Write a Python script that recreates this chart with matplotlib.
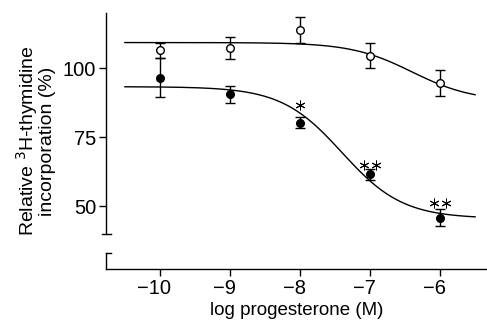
import numpy as np
import matplotlib
matplotlib.use("Agg")
import matplotlib.pyplot as plt
import matplotlib.transforms as mtransforms

plt.rcParams['font.family'] = ['Liberation Sans', 'DejaVu Sans']

# ---- data ----
log_conc = [-10, -9, -8, -7, -6]
open_mean = [106.5, 107.4, 113.8, 104.5, 94.7]
open_err = [2.7, 4.0, 4.8, 4.5, 4.8]
filled_mean = [96.6, 90.5, 80.2, 61.5, 45.8]
filled_err = [7.0, 3.2, 2.0, 2.0, 3.0]

# fitted sigmoid parameters (top, bottom, logEC50)
open_fit = (109.3, 88.0, -6.4)
filled_fit = (93.3, 45.5, -7.4)
fit_range = (-10.5, -5.5)

# significance marks (number of stars)
sig_x = [-8, -7, -6]
sig_y = [86.6, 64.9, 51.2]
sig_n = [1, 2, 2]

yticks = [50, 75, 100]
xticks = [-10, -9, -8, -7, -6]
xlim = (-10.77, -5.33)
ylim = (27.2, 120)
break_lo, break_hi = 33.0, 40.0


def hill(x, p):
    top, bot, ec = p
    return bot + (top - bot) / (1 + 10 ** (x - ec))


fig = plt.figure(figsize=(4.87, 3.26), dpi=100)
ax = fig.add_axes([0.2177, 0.175, 0.7823, 0.785])

xs = np.linspace(fit_range[0], fit_range[1], 300)
ax.plot(xs, hill(xs, open_fit), color="black", lw=1.0)
ax.plot(xs, hill(xs, filled_fit), color="black", lw=1.0)

ax.errorbar(log_conc, filled_mean, yerr=filled_err, fmt="o", color="black",
            mfc="black", mec="black", ms=5.5, capsize=3.8, elinewidth=1.0,
            capthick=1.0, zorder=3)
ax.errorbar(log_conc, open_mean, yerr=open_err, fmt="o", color="black",
            mfc="white", mec="black", ms=5.5, capsize=3.8, elinewidth=1.0,
            capthick=1.0, zorder=4)

# asterisks, side by side (offset in points)
for x, y, n in zip(sig_x, sig_y, sig_n):
    for k in range(n):
        dx = (k - (n - 1) / 2) * 8.5
        tr = ax.transData + mtransforms.ScaledTranslation(dx / 72, 0, fig.dpi_scale_trans)
        ax.plot([x], [y], marker=(6, 2, 0), ms=7, mew=0.7, color="black",
                transform=tr, linestyle="none")

ax.set_xlim(*xlim)
ax.set_ylim(*ylim)
ax.set_xticks(xticks)
ax.set_xticklabels(["\u2212%d" % abs(v) for v in xticks])
ax.set_yticks(yticks)
ax.tick_params(direction="out", length=5, width=1.0, labelsize=14.5, pad=2)
# numbers centred on the ticks, minus sign hangs left
shift = mtransforms.ScaledTranslation(-4 / 72, 0, fig.dpi_scale_trans)
for lbl in ax.get_xticklabels():
    lbl.set_transform(lbl.get_transform() + shift)

for s in ["top", "right", "left"]:
    ax.spines[s].set_visible(False)
ax.spines["bottom"].set_linewidth(1.0)

# broken left axis
x0 = xlim[0]
ax.plot([x0, x0], [break_hi, ylim[1]], color="black", lw=1.0, clip_on=False)
ax.plot([x0, x0], [ylim[0], break_lo], color="black", lw=1.0, clip_on=False)
ax.plot([x0 - 0.06, x0 + 0.07], [break_hi, break_hi], color="black", lw=1.0, clip_on=False)
ax.plot([x0, x0 + 0.07], [break_lo, break_lo], color="black", lw=1.0, clip_on=False)

ax.set_xlabel("log progesterone (M)", fontsize=13.5, labelpad=3)
ax.set_ylabel("Relative $^{3}$H-thymidine\nincorporation (%)", fontsize=14,
              linespacing=0.95, labelpad=5)

fig.savefig("out.png", dpi=100)
